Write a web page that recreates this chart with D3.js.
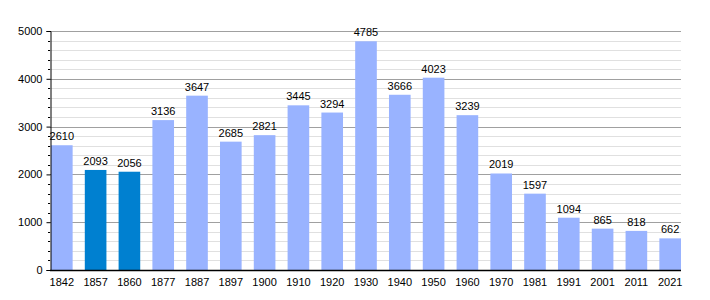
<!DOCTYPE html>
<html>
<head>
<meta charset="utf-8">
<script src="https://cdn.jsdelivr.net/npm/d3@7"></script>
<style>
body { margin: 0; background: #fff; }
text { font-family: "Liberation Sans", Arial, sans-serif; font-size: 11px; fill: #000; }
</style>
</head>
<body>
<svg id="svg" width="710" height="300"></svg>
<script>
var years = ['1842','1857','1860','1877','1887','1897','1900','1910','1920','1930','1940','1950','1960','1970','1981','1991','2001','2011','2021'];
var population = [2610,2093,2056,3136,3647,2685,2821,3445,3294,4785,3666,4023,3239,2019,1597,1094,865,818,662];
var darkYears = ['1857','1860'];
var yTicks = [0,1000,2000,3000,4000,5000];

var plotLeft = 50, plotRight = 681, plotTop = 31, plotBottom = 270;

var svg = d3.select('svg');

var x = d3.scaleBand()
    .domain(years)
    .range([plotLeft + 1, plotRight])
    .paddingInner(0.36)
    .paddingOuter(0);

var y = d3.scaleLinear()
    .domain([0, 5000])
    .range([plotBottom, plotTop]);

var minor = d3.range(200, 5000, 200).filter(function(d){ return d % 1000 != 0; });

// minor gridlines
svg.append('g')
    .selectAll('line')
    .data(minor)
    .enter()
    .append('line')
    .attr('x1', plotLeft).attr('x2', plotRight)
    .attr('y1', function(d){ return Math.round(y(d)) + 0.5; })
    .attr('y2', function(d){ return Math.round(y(d)) + 0.5; })
    .attr('stroke', '#e0e0e0');

// major gridlines
svg.append('g')
    .selectAll('line')
    .data(yTicks.slice(1))
    .enter()
    .append('line')
    .attr('x1', plotLeft).attr('x2', plotRight)
    .attr('y1', function(d){ return Math.round(y(d)) + 0.5; })
    .attr('y2', function(d){ return Math.round(y(d)) + 0.5; })
    .attr('stroke', '#a0a0a0');

svg.selectAll('rect')
    .data(population)
    .enter()
    .append('rect')
    .attr('x', function(d, i){ return x(years[i]); })
    .attr('y', function(d){ return y(d); })
    .attr('width', x.bandwidth())
    .attr('height', function(d){ return plotBottom - y(d); })
    .attr('fill', function(d, i){ return darkYears.indexOf(years[i]) >= 0 ? '#0080d0' : '#99b3ff'; });

svg.append('g')
    .selectAll('text')
    .data(population)
    .enter()
    .append('text')
    .attr('x', function(d, i){ return x(years[i]) + x.bandwidth() / 2; })
    .attr('y', function(d){ return y(d) - 5; })
    .attr('text-anchor', 'middle')
    .text(function(d){ return d; });

// y axis
var yAxis = d3.axisLeft(y).tickValues(yTicks).tickSize(4).tickFormat(d3.format('d'));
var gy = svg.append('g')
    .attr('transform', 'translate(' + (plotLeft + 0.5) + ',0)')
    .call(yAxis);
gy.select('.domain').attr('stroke', '#000');
gy.selectAll('text').style('font-size', '11px').attr('x', -8);

// minor axis ticks
svg.append('g')
    .selectAll('line')
    .data(minor)
    .enter()
    .append('line')
    .attr('x1', plotLeft - 2).attr('x2', plotLeft)
    .attr('y1', function(d){ return Math.round(y(d)) + 0.5; })
    .attr('y2', function(d){ return Math.round(y(d)) + 0.5; })
    .attr('stroke', '#000');

// x axis
var gx = svg.append('g')
    .attr('transform', 'translate(0,' + (plotBottom + 0.5) + ')')
    .call(d3.axisBottom(x).tickSize(0).tickPadding(8));
gx.select('.domain').attr('d', 'M' + plotLeft + ',0H' + plotRight).attr('stroke', '#000').attr('stroke-width', 1.5);
gx.selectAll('text').style('font-size', '11px');
</script>
</body>
</html>
